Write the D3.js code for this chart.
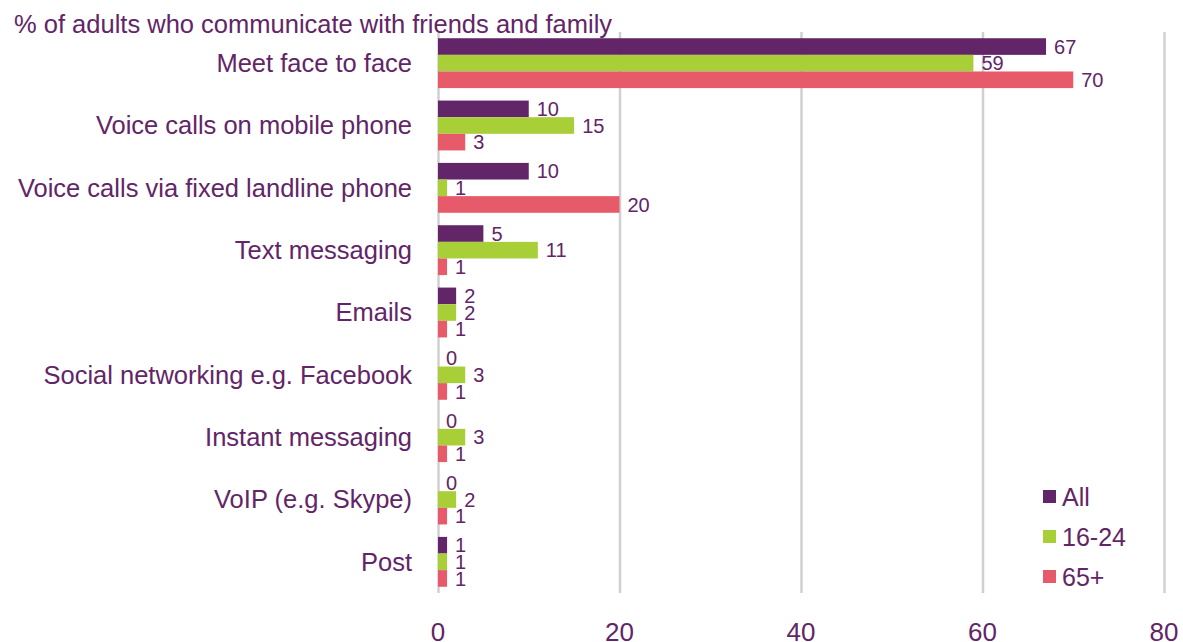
<!DOCTYPE html>
<html lang="en">
<head>
<meta charset="utf-8">
<script src="https://d3js.org/d3.v7.min.js"></script>
<style>
body { margin: 0; background: #fff; }
svg text { font-family: "Liberation Sans", Arial, sans-serif; fill: #622567; }
.grid line { stroke: #d0d0d0; stroke-width: 2.5; }
.grid path { display: none; }
</style>
</head>
<body>
<svg width="1183" height="642"></svg>
<script>

// data
var categories = ["Meet face to face", "Voice calls on mobile phone", "Voice calls via fixed landline phone",
  "Text messaging", "Emails", "Social networking e.g. Facebook", "Instant messaging",
  "VoIP (e.g. Skype)", "Post"];
var seriesNames = ["All", "16-24", "65+"];
var allAdults = [67, 10, 10, 5, 2, 0, 0, 0, 1];
var age16to24 = [59, 15, 1, 11, 2, 3, 3, 2, 1];
var age65plus = [70, 3, 20, 1, 1, 1, 1, 1, 1];
var xTicks = [0, 20, 40, 60, 80];
var title = "% of adults who communicate with friends and family";

var colors = ["#622567", "#a8cf38", "#e65a6a"];
var values = [allAdults, age16to24, age65plus];

var svg = d3.select("svg");
var plotLeft = 438, plotRight = 1164, plotTop = 32, plotBottom = 593;

var x = d3.scaleLinear().domain([0, 80]).range([plotLeft, plotRight]);
var y = d3.scaleBand().domain(categories).range([plotTop, plotBottom]).paddingInner(0.2).paddingOuter(0.1);
var ySub = d3.scaleBand().domain(seriesNames).range([0, y.bandwidth()]);

// gridlines
svg.append("g")
    .attr("class", "grid")
    .attr("transform", "translate(0," + plotBottom + ")")
    .call(d3.axisBottom(x).tickValues(xTicks).tickSize(-(plotBottom - plotTop)).tickFormat(""));

// tick labels
svg.selectAll(".tick-label")
  .data(xTicks)
  .enter().append("text")
    .attr("class", "tick-label")
    .attr("x", function(d) { return x(d); })
    .attr("y", 641)
    .attr("text-anchor", "middle")
    .style("font-size", "26px")
    .text(function(d) { return d; });

// title
svg.append("text")
    .attr("x", 14)
    .attr("y", 33)
    .style("font-size", "25.5px")
    .text(title);

// category labels
svg.selectAll(".cat")
  .data(categories)
  .enter().append("text")
    .attr("class", "cat")
    .attr("x", 412)
    .attr("y", function(d) { return y(d) + y.bandwidth() / 2; })
    .attr("dy", "0.35em")
    .attr("text-anchor", "end")
    .style("font-size", "25.5px")
    .text(function(d) { return d; });

// bars
var rows = [];
categories.forEach(function(c, i) {
  seriesNames.forEach(function(s, j) {
    rows.push({cat: c, series: s, value: values[j][i], color: colors[j]});
  });
});

svg.selectAll(".bar")
  .data(rows)
  .enter().append("rect")
    .attr("class", "bar")
    .attr("x", x(0))
    .attr("y", function(d) { return y(d.cat) + ySub(d.series); })
    .attr("width", function(d) { return x(d.value) - x(0); })
    .attr("height", ySub.bandwidth())
    .attr("fill", function(d) { return d.color; });

svg.selectAll(".val")
  .data(rows)
  .enter().append("text")
    .attr("class", "val")
    .attr("x", function(d) { return x(d.value) + 8; })
    .attr("y", function(d) { return y(d.cat) + ySub(d.series) + ySub.bandwidth() / 2; })
    .attr("dy", "0.36em")
    .style("font-size", "20px")
    .text(function(d) { return d.value; });

// legend
var legend = svg.selectAll(".legend")
  .data(seriesNames)
  .enter().append("g")
    .attr("class", "legend")
    .attr("transform", function(d, i) { return "translate(1043," + (497 + i * 40) + ")"; });

legend.append("rect")
    .attr("y", -7)
    .attr("width", 13)
    .attr("height", 13)
    .attr("fill", function(d, i) { return colors[i]; });

legend.append("text")
    .attr("x", 19)
    .attr("dy", "0.36em")
    .style("font-size", "25px")
    .text(function(d) { return d; });

</script>
</body>
</html>
